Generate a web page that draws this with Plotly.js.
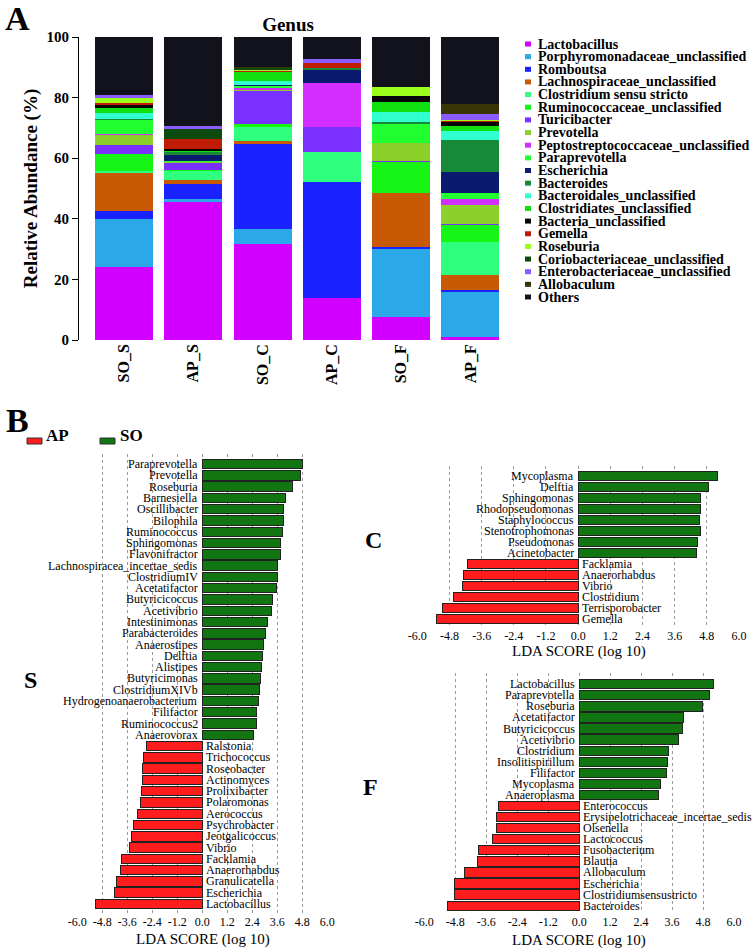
<!DOCTYPE html>
<html>
<head>
<meta charset="utf-8">
<script src="https://cdn.plot.ly/plotly-3.0.1.min.js"></script>
<style>
body { margin: 0; background: #fff; }
#plot { width: 756px; height: 952px; }
</style>
</head>
<body>
<div id="plot"></div>
<script>
// ---- A: genus composition, relative abundance (%) ----
let samples = ['SO_S', 'AP_S', 'SO_C', 'AP_C', 'SO_F', 'AP_F'];
let genera = ['Lactobacillus', 'Porphyromonadaceae_unclassified', 'Romboutsa',
    'Lachnospiraceae_unclassified', 'Clostridium sensu stricto', 'Ruminococcaceae_unclassified',
    'Turicibacter', 'Prevotella', 'Peptostreptococcaceae_unclassified', 'Paraprevotella',
    'Escherichia', 'Bacteroides', 'Bacteroidales_unclassified', 'Clostridiates_unclassified',
    'Bacteria_unclassified', 'Gemella', 'Roseburia', 'Coriobacteriaceae_unclassified',
    'Enterobacteriaceae_unclassified', 'Allobaculum', 'Others'];

// one value per genus, same order as genera
let soS = [24.2, 15.7, 2.6, 12.7, 0.5, 5.7, 2.8, 3.6, 0.2, 4.5, 0.1, 0.4, 1.8, 1.9, 0.9, 0.6, 1.6, 0.2, 0.8, 0.1, 19.1];
let apS = [45.7, 0.9, 4.8, 1.3, 3.1, 0.2, 2.4, 0.3, 0.1, 0.2, 2.2, 0.8, 0.1, 0.2, 0.6, 3.3, 0.1, 3.5, 0.8, 0.1, 29.3];
let soC = [31.6, 5.2, 27.8, 1.0, 4.7, 1.0, 10.8, 0.3, 0.9, 0.4, 0.3, 0.3, 1.2, 2.8, 0.2, 0.4, 0.2, 0.6, 0.2, 0.1, 10.0];
let apC = [13.9, 0.1, 38.0, 0.2, 9.9, 0, 8.2, 0, 14.5, 0, 4.4, 0.5, 0, 0.2, 0, 1.6, 0, 0, 1.1, 0, 7.4];
let soF = [7.7, 22.2, 0.7, 18.0, 0, 10.2, 0.2, 5.9, 0, 6.5, 0, 0.4, 3.4, 3.5, 1.9, 0, 2.8, 0, 0, 0, 16.6];
let apF = [1.1, 14.8, 0.7, 4.8, 10.8, 5.9, 0.2, 6.2, 2.0, 1.9, 7.1, 10.5, 2.9, 1.8, 1.3, 0.2, 0.3, 0.2, 1.8, 3.5, 22.0];

let genusColors = ['#D200FF', '#2BA8E8', '#1A22FF', '#C85A05', '#2EFF7C', '#17F517',
    '#7A30FF', '#8BD12A', '#D22EFF', '#22FF30', '#0A1A6E', '#178A3A', '#30FFD0',
    '#10E010', '#050505', '#C01C05', '#9AFF1A', '#0D4A0D', '#8B5CFF', '#3A3505', '#12121C'];

// ---- B: LEfSe LDA scores (log 10), listed top to bottom ----
let sGenus = ['Paraprevotella', 'Prevotella', 'Roseburia', 'Barnesiella', 'Oscillibacter', 'Bilophila',
    'Ruminococcus', 'Sphingomonas', 'Flavonifractor', 'Lachnospiracea_incertae_sedis', 'ClostridiumIV',
    'Acetatifactor', 'Butyricicoccus', 'Acetivibrio', 'Intestinimonas', 'Parabacteroides', 'Anaerostipes',
    'Delftia', 'Alistipes', 'Butyricimonas', 'ClostridiumXIVb', 'Hydrogenoanaerobacterium', 'Filifactor',
    'Ruminococcus2', 'Anaerovorax', 'Ralstonia', 'Trichococcus', 'Roseobacter', 'Actinomyces',
    'Prolixibacter', 'Polaromonas', 'Aerococcus', 'Psychrobacter', 'Jeotgalicoccus', 'Vibrio',
    'Facklamia', 'Anaerorhabdus', 'Granulicatella', 'Escherichia', 'Lactobacillus'];
let sScore = [4.80, 4.69, 4.34, 3.97, 3.92, 3.91, 3.83, 3.76, 3.76, 3.63, 3.62, 3.57, 3.38, 3.30, 3.14,
    3.01, 2.95, 2.90, 2.85, 2.79, 2.74, 2.71, 2.61, 2.61, 2.48, -2.69, -2.83, -2.86, -2.86, -2.93, -2.98,
    -3.13, -3.29, -3.41, -3.50, -3.89, -3.92, -4.14, -4.21, -5.15];

let cGenus = ['Mycoplasma', 'Delftia', 'Sphingomonas', 'Rhodopseudomonas', 'Staphylococcus',
    'Stenotrophomonas', 'Pseudomonas', 'Acinetobacter', 'Facklamia', 'Anaerorhabdus', 'Vibrio',
    'Clostridium', 'Terrisporobacter', 'Gemella'];
let cScore = [5.19, 4.86, 4.56, 4.55, 4.54, 4.55, 4.44, 4.42, -4.12, -4.29, -4.32, -4.65, -5.07, -5.28];

let fGenus = ['Lactobacillus', 'Paraprevotella', 'Roseburia', 'Acetatifactor', 'Butyricicoccus',
    'Acetivibrio', 'Clostridium', 'Insolitispirillum', 'Filifactor', 'Mycoplasma', 'Anaeroplasma',
    'Enterococcus', 'Erysipelotrichaceae_incertae_sedis', 'Olsenella', 'Lactococcus', 'Fusobacterium',
    'Blautia', 'Allobaculum', 'Escherichia', 'Clostridiumsensustricto', 'Bacteroides'];
let fScore = [5.19, 5.06, 4.78, 4.03, 4.02, 3.86, 3.47, 3.41, 3.38, 3.16, 3.06, -3.12, -3.19, -3.19,
    -3.35, -3.89, -3.95, -4.43, -4.83, -4.84, -5.12];

let ldaTicks = [-6, -4.8, -3.6, -2.4, -1.2, 0, 1.2, 2.4, 3.6, 4.8, 6];
let ldaTickText = ['-6.0', '-4.8', '-3.6', '-2.4', '-1.2', '0.0', '1.2', '2.4', '3.6', '4.8', '6.0'];

// page helpers (pixels -> paper)
const W = 756, H = 952;
const px = x => x / W;
const py = y => 1 - y / H;
const serif = 'Liberation Serif, Times New Roman, serif';
const green = '#117511';
const red = '#FF1C1C';

let data = [];
let bySample = [soS, apS, soC, apC, soF, apF];
for (let g = 0; g < genera.length; g++) {
    data.push({
        type: 'bar',
        x: samples,
        y: bySample.map(s => s[g]),
        name: genera[g],
        marker: {color: genusColors[g], line: {width: 0}},
        xaxis: 'x', yaxis: 'y',
        showlegend: false
    });
}

function ldaTrace(names, scores, n) {
    return {
        type: 'bar',
        orientation: 'h',
        x: scores,
        y: names,
        xaxis: 'x' + n, yaxis: 'y' + n,
        marker: {color: scores.map(v => v > 0 ? green : red), line: {color: '#222', width: 1}},
        showlegend: false
    };
}
data.push(ldaTrace(sGenus, sScore, 2));
data.push(ldaTrace(cGenus, cScore, 3));
data.push(ldaTrace(fGenus, fScore, 4));

let annotations = [];
let shapes = [];

// genus labels next to the zero line
function ldaLabels(names, scores, n) {
    for (let i = 0; i < names.length; i++) {
        annotations.push({
            xref: 'x' + n, yref: 'y' + n, x: 0, y: i,
            text: names[i], showarrow: false, borderpad: 0,
            xanchor: scores[i] > 0 ? 'right' : 'left',
            xshift: scores[i] > 0 ? -3 : 3,
            font: {family: serif, size: 12, color: '#000'}
        });
    }
}
ldaLabels(sGenus, sScore, 2);
ldaLabels(cGenus, cScore, 3);
ldaLabels(fGenus, fScore, 4);

// legend of panel A
for (let g = 0; g < genera.length; g++) {
    let yc = 44 + g * 12.65;
    shapes.push({
        type: 'rect', xref: 'paper', yref: 'paper',
        x0: px(525), x1: px(531), y0: py(yc + 2.5), y1: py(yc - 2.5),
        fillcolor: genusColors[g], line: {width: 0}
    });
    annotations.push({
        xref: 'paper', yref: 'paper', x: px(537), y: py(yc),
        xanchor: 'left', yanchor: 'middle', showarrow: false, borderpad: 0,
        text: '<b>' + genera[g] + '</b>',
        font: {family: serif, size: 14, color: '#000'}
    });
}

// legend of panel B
shapes.push({type: 'rect', xref: 'paper', yref: 'paper', x0: px(27), x1: px(42), y0: py(444), y1: py(438),
    fillcolor: red, line: {color: '#333', width: 1}});
shapes.push({type: 'rect', xref: 'paper', yref: 'paper', x0: px(100), x1: px(115), y0: py(444), y1: py(438),
    fillcolor: green, line: {color: '#333', width: 1}});

function label(text, x, y, size, bold) {
    annotations.push({
        xref: 'paper', yref: 'paper', x: px(x), y: py(y),
        xanchor: 'center', yanchor: 'middle', showarrow: false,
        text: bold ? '<b>' + text + '</b>' : text,
        font: {family: serif, size: size, color: '#000'}
    });
}
label('A', 17, 18, 34, true);
label('B', 17, 420, 34, true);
label('AP', 57, 436, 17, true);
label('SO', 131, 436, 17, true);
label('S', 30, 680, 24, true);
label('C', 373, 540, 24, true);
label('F', 370, 787, 24, true);
label('LDA SCORE (log 10)', 203, 939, 15, false);
label('LDA SCORE (log 10)', 579, 651, 15, false);
label('LDA SCORE (log 10)', 579, 940, 15, false);

function ldaX(x0, x1, n) {
    return {
        domain: [px(x0), px(x1)], range: [-6, 6], anchor: 'y' + n,
        tickvals: ldaTicks, ticktext: ldaTickText, ticks: '',
        tickfont: {family: serif, size: 12, color: '#000'},
        showgrid: true, gridcolor: '#999', griddash: 'dot', gridwidth: 1,
        zeroline: false, showline: false, fixedrange: true
    };
}
function ldaY(top, bottom, r, n) {
    return {
        domain: [py(bottom), py(top)], range: r, type: 'category', anchor: 'x' + n,
        showticklabels: false, showgrid: false, zeroline: false, showline: false, ticks: ''
    };
}

let layout = {
    width: W, height: H,
    margin: {l: 0, r: 0, t: 0, b: 0},
    paper_bgcolor: '#fff', plot_bgcolor: 'rgba(0,0,0,0)',
    barmode: 'stack',
    bargap: 0.163,
    font: {family: serif, color: '#000'},
    title: {text: '<b>Genus</b>', x: px(288), xanchor: 'center', y: py(24), yanchor: 'middle',
        font: {family: serif, size: 19, color: '#000'}},
    xaxis: {
        domain: [px(79), px(505)], range: [-0.65, 5.5], type: 'category', anchor: 'y',
        tickangle: -90, ticks: '', showline: false, showgrid: false,
        tickfont: {family: serif, size: 16, weight: 'bold', color: '#000'}
    },
    yaxis: {
        domain: [py(340), py(37)], range: [0, 100], anchor: 'x',
        tickvals: [0, 20, 40, 60, 80, 100], ticks: 'outside', ticklen: 6, tickcolor: '#000',
        showline: true, linecolor: '#000', linewidth: 1, showgrid: false, zeroline: false,
        tickfont: {family: serif, size: 15, weight: 'bold', color: '#000'},
        title: {text: 'Relative Abundance (%)', standoff: 3,
            font: {family: serif, size: 19, weight: 'bold', color: '#000'}}
    },
    xaxis2: ldaX(77.3, 327.3, 2),
    yaxis2: ldaY(454, 913, [39.8, -0.9], 2),
    xaxis3: ldaX(417.3, 739, 3),
    yaxis3: ldaY(466, 627, [13.73, -0.9], 3),
    xaxis4: ldaX(424.3, 734, 4),
    yaxis4: ldaY(673.3, 913, [20.66, -0.99], 4),
    annotations: annotations,
    shapes: shapes
};

Plotly.newPlot('plot', data, layout, {displayModeBar: false, staticPlot: true});
</script>
</body>
</html>
